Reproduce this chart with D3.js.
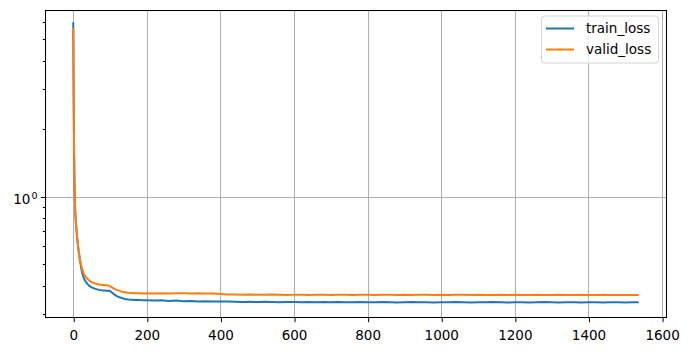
<!DOCTYPE html>
<html lang="en">
<head>
<meta charset="UTF-8">
<title>Loss curves</title>
<script src="https://d3js.org/d3.v7.min.js"></script>
<style>
  body { margin: 0; background: #fff; }
  svg { display: block; font-family: "DejaVu Sans", sans-serif; }
</style>
</head>
<body>
<div id="chart"></div>
<script>
// epochs sampled from the plot
var epochs = [0, 1, 2, 3, 4, 5, 6, 7, 8, 10, 12, 14, 16, 18, 20, 23, 26, 29, 32, 36, 40, 45, 50, 55, 60, 65, 70, 75, 80, 85, 90, 95, 100, 105, 110, 115, 120, 125, 130, 135, 140, 145, 150, 160, 170, 180, 190,
  200, 220, 240, 260, 280, 300, 320, 340, 360, 380, 400, 420, 440, 460, 480, 500, 520, 540, 560, 580, 600, 620, 640, 660, 680, 700, 720, 740, 760, 780,
  800, 820, 840, 860, 880, 900, 920, 940, 960, 980, 1000, 1020, 1040, 1060, 1080, 1100, 1120, 1140, 1160, 1180, 1200, 1220, 1240, 1260, 1280, 1300,
  1320, 1340, 1360, 1380, 1400, 1420, 1440, 1460, 1480, 1500, 1520, 1534];

var trainLoss = [5.90, 3.20, 1.90, 1.30, 1.02, 0.90, 0.83, 0.78, 0.74, 0.67, 0.62, 0.58, 0.55, 0.52, 0.50, 0.468, 0.447, 0.433, 0.423, 0.413, 0.406, 0.399, 0.394, 0.391, 0.388, 0.386, 0.384, 0.383, 0.382, 0.382, 0.381, 0.381, 0.380, 0.374, 0.368, 0.363, 0.359, 0.356, 0.354, 0.352, 0.350, 0.349, 0.348, 0.347, 0.346, 0.346, 0.345,
  0.345, 0.344, 0.345, 0.343, 0.344, 0.342, 0.343, 0.341, 0.342, 0.341, 0.341, 0.341, 0.340, 0.339, 0.340, 0.339, 0.340, 0.339, 0.338, 0.339, 0.339, 0.338, 0.339, 0.338, 0.339, 0.338, 0.339, 0.338, 0.338, 0.339,
  0.338, 0.338, 0.339, 0.338, 0.337, 0.338, 0.339, 0.338, 0.338, 0.337, 0.338, 0.338, 0.339, 0.338, 0.337, 0.338, 0.338, 0.339, 0.338, 0.337, 0.338, 0.338, 0.337, 0.338, 0.339, 0.338,
  0.337, 0.338, 0.338, 0.337, 0.338, 0.338, 0.337, 0.338, 0.338, 0.337, 0.338, 0.338];

var validLoss = [5.58, 3.00, 1.80, 1.25, 1.00, 0.89, 0.82, 0.77, 0.74, 0.68, 0.63, 0.59, 0.56, 0.53, 0.51, 0.485, 0.465, 0.452, 0.443, 0.435, 0.428, 0.421, 0.416, 0.413, 0.410, 0.408, 0.406, 0.405, 0.404, 0.403, 0.403, 0.402, 0.399, 0.394, 0.390, 0.386, 0.383, 0.381, 0.378, 0.376, 0.375, 0.374, 0.373, 0.372, 0.371, 0.371, 0.370,
  0.371, 0.370, 0.371, 0.370, 0.371, 0.371, 0.370, 0.371, 0.370, 0.370, 0.368, 0.366, 0.366, 0.365, 0.366, 0.365, 0.365, 0.366, 0.365, 0.364, 0.365, 0.365, 0.364, 0.365, 0.365, 0.364, 0.365, 0.365, 0.364, 0.365,
  0.365, 0.364, 0.365, 0.365, 0.364, 0.365, 0.364, 0.365, 0.365, 0.364, 0.365, 0.364, 0.365, 0.365, 0.364, 0.365, 0.364, 0.364, 0.365, 0.364, 0.365, 0.364, 0.364, 0.365, 0.364, 0.364,
  0.365, 0.364, 0.364, 0.365, 0.364, 0.364, 0.365, 0.364, 0.364, 0.364, 0.364, 0.364];

var xTicks = [0, 200, 400, 600, 800, 1000, 1200, 1400, 1600];
var yMinor = [0.3, 0.4, 0.5, 0.6, 0.7, 0.8, 0.9, 2, 3, 4, 5, 6];
var seriesNames = ["train_loss", "valid_loss"];
var colors = ["#1f77b4", "#ff7f0e"];

var width = 689, height = 351;
var plotL = 45, plotR = 666, plotT = 10, plotB = 317;
var fs = 13.5;

var svg = d3.select("#chart").append("svg")
  .attr("width", width)
  .attr("height", height);

var x = d3.scaleLinear().domain([-76.7, 1610.7]).range([plotL, plotR]);
var y = d3.scaleLog().domain([0.2908, 6.765]).range([plotB, plotT]);

// grid
svg.append("g").selectAll("line")
  .data(xTicks).enter().append("line")
  .attr("x1", function (d) { return Math.round(x(d)) + 0.5; })
  .attr("x2", function (d) { return Math.round(x(d)) + 0.5; })
  .attr("y1", plotT).attr("y2", plotB)
  .attr("stroke", "#b0b0b0").attr("stroke-width", 1.05);

svg.append("line")
  .attr("x1", plotL).attr("x2", plotR)
  .attr("y1", Math.round(y(1)) + 0.5).attr("y2", Math.round(y(1)) + 0.5)
  .attr("stroke", "#b0b0b0").attr("stroke-width", 1.05);

// lines
var line = d3.line()
  .x(function (d) { return x(d[0]); })
  .y(function (d) { return y(d[1]); });

[trainLoss, validLoss].forEach(function (vals, i) {
  svg.append("path")
    .datum(epochs.map(function (e, j) { return [e, vals[j]]; }))
    .attr("d", line)
    .attr("fill", "none")
    .attr("stroke", colors[i])
    .attr("stroke-width", 2)
    .attr("stroke-linejoin", "round")
    .attr("stroke-linecap", "square");
});

// frame
svg.append("rect")
  .attr("x", plotL + 0.5).attr("y", plotT + 0.5)
  .attr("width", plotR - plotL).attr("height", plotB - plotT)
  .attr("fill", "none").attr("stroke", "#000").attr("stroke-width", 1.05);

// x axis
var xAxis = d3.axisBottom(x).tickValues(xTicks).tickSize(4.7).tickPadding(8).tickFormat(d3.format("d"));
var gx = svg.append("g").attr("transform", "translate(0," + (plotB + 0.5) + ")").call(xAxis);
gx.select(".domain").remove();
gx.selectAll(".tick line").attr("transform", "translate(0.5,0)");
gx.selectAll("text").attr("font-size", fs).attr("font-family", "DejaVu Sans").attr("fill", "#000");

// y axis minor ticks
svg.append("g").selectAll("line")
  .data(yMinor).enter().append("line")
  .attr("x1", plotL + 0.5).attr("x2", plotL + 0.5 - 2.7)
  .attr("y1", function (d) { return Math.round(y(d)) + 0.5; })
  .attr("y2", function (d) { return Math.round(y(d)) + 0.5; })
  .attr("stroke", "#000").attr("stroke-width", 1);

// y major tick at 10^0
svg.append("line")
  .attr("x1", plotL + 0.5).attr("x2", plotL + 0.5 - 4.7)
  .attr("y1", Math.round(y(1)) + 0.5).attr("y2", Math.round(y(1)) + 0.5)
  .attr("stroke", "#000").attr("stroke-width", 1);

var ylab = svg.append("text")
  .attr("x", 37.5).attr("y", y(1) + 7.2)
  .attr("text-anchor", "end")
  .attr("font-size", fs);
ylab.append("tspan").text("10");
ylab.append("tspan").attr("font-size", 9.5).attr("dx", 1).attr("dy", -5).text("0");

// legend
var lg = svg.append("g");
lg.append("rect")
  .attr("x", 541.5).attr("y", 16).attr("width", 117).attr("height", 47)
  .attr("rx", 3).attr("fill", "#fff").attr("fill-opacity", 0.8)
  .attr("stroke", "#d5d5d5").attr("stroke-width", 1);
seriesNames.forEach(function (name, i) {
  var yy = 28.5 + i * 21;
  lg.append("line")
    .attr("x1", 546).attr("x2", 574).attr("y1", yy).attr("y2", yy)
    .attr("stroke", colors[i]).attr("stroke-width", 2);
  lg.append("text")
    .attr("x", 586).attr("y", yy + 4.9)
    .attr("font-size", fs).text(name);
});
</script>
</body>
</html>
